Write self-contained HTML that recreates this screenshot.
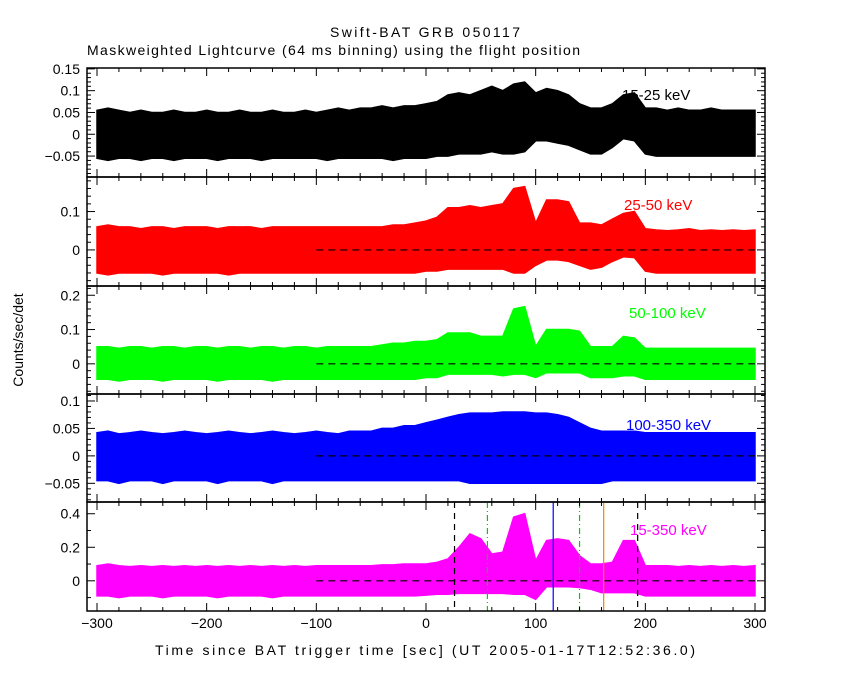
<!DOCTYPE html>
<html><head><meta charset="utf-8"><style>
html,body{margin:0;padding:0;background:#fff;}
svg{display:block;font-family:"Liberation Sans",sans-serif;}
</style></head><body>
<svg id="chart" width="850" height="680" viewBox="0 0 850 680">
<text x="425" y="37" text-anchor="middle" font-size="14" textLength="190">Swift-BAT GRB 050117</text>
<text x="87" y="55" font-size="14" textLength="493">Maskweighted Lightcurve (64 ms binning) using the flight position</text>
<text transform="translate(23,340) rotate(-90)" text-anchor="middle" font-size="14">Counts/sec/det</text>
<text x="425" y="655" text-anchor="middle" font-size="14" textLength="540">Time since BAT trigger time [sec] (UT 2005-01-17T12:52:36.0)</text>
<g id="plots"></g>
</svg>
<script>
const times=[-300,-290,-280,-270,-260,-250,-240,-230,-220,-210,-200,-190,-180,-170,-160,-150,-140,-130,-120,-110,-100,-90,-80,-70,-60,-50,-40,-30,-20,-10,0,10,20,30,40,50,60,70,80,90,100,110,120,130,140,150,160,170,180,190,200,210,220,230,240,250,260,270,280,290,300];
const hi1=[0.055,0.06,0.055,0.05,0.055,0.05,0.05,0.055,0.05,0.05,0.055,0.05,0.05,0.055,0.05,0.05,0.055,0.05,0.05,0.055,0.05,0.055,0.06,0.055,0.06,0.06,0.065,0.06,0.065,0.065,0.07,0.075,0.09,0.095,0.09,0.1,0.11,0.1,0.115,0.12,0.095,0.105,0.1,0.09,0.07,0.06,0.06,0.07,0.09,0.095,0.06,0.06,0.055,0.06,0.055,0.055,0.06,0.055,0.055,0.055,0.055];
const lo1=[-0.055,-0.06,-0.055,-0.055,-0.06,-0.055,-0.055,-0.06,-0.055,-0.055,-0.055,-0.06,-0.055,-0.055,-0.055,-0.06,-0.055,-0.055,-0.055,-0.055,-0.055,-0.06,-0.055,-0.055,-0.055,-0.055,-0.055,-0.06,-0.055,-0.055,-0.055,-0.05,-0.05,-0.045,-0.045,-0.045,-0.04,-0.045,-0.045,-0.04,-0.015,-0.015,-0.02,-0.025,-0.035,-0.045,-0.045,-0.03,-0.01,-0.015,-0.045,-0.05,-0.05,-0.05,-0.05,-0.05,-0.05,-0.05,-0.05,-0.05,-0.05];
const hi2=[0.06,0.065,0.06,0.06,0.055,0.06,0.06,0.055,0.06,0.06,0.06,0.055,0.06,0.06,0.06,0.055,0.06,0.06,0.06,0.06,0.06,0.06,0.06,0.06,0.06,0.06,0.06,0.065,0.065,0.07,0.075,0.085,0.11,0.11,0.115,0.11,0.115,0.12,0.16,0.165,0.07,0.13,0.13,0.125,0.07,0.07,0.065,0.08,0.095,0.1,0.055,0.052,0.05,0.052,0.055,0.05,0.052,0.05,0.052,0.05,0.052];
const lo2=[-0.06,-0.065,-0.06,-0.06,-0.06,-0.06,-0.065,-0.06,-0.06,-0.06,-0.06,-0.06,-0.065,-0.06,-0.06,-0.06,-0.06,-0.06,-0.06,-0.06,-0.06,-0.06,-0.06,-0.06,-0.06,-0.06,-0.06,-0.06,-0.06,-0.06,-0.055,-0.055,-0.05,-0.05,-0.05,-0.05,-0.05,-0.05,-0.06,-0.06,-0.04,-0.026,-0.026,-0.03,-0.04,-0.05,-0.045,-0.03,-0.018,-0.02,-0.055,-0.06,-0.06,-0.06,-0.06,-0.06,-0.06,-0.06,-0.06,-0.06,-0.06];
const hi3=[0.05,0.05,0.045,0.05,0.05,0.045,0.05,0.05,0.045,0.05,0.05,0.045,0.05,0.05,0.045,0.05,0.05,0.045,0.05,0.05,0.045,0.05,0.05,0.05,0.05,0.05,0.055,0.06,0.06,0.065,0.065,0.07,0.09,0.09,0.09,0.08,0.08,0.08,0.16,0.167,0.05,0.1,0.1,0.1,0.095,0.05,0.05,0.05,0.08,0.075,0.045,0.045,0.045,0.045,0.045,0.045,0.045,0.045,0.045,0.045,0.045];
const lo3=[-0.045,-0.045,-0.05,-0.045,-0.045,-0.045,-0.05,-0.045,-0.045,-0.045,-0.045,-0.05,-0.045,-0.045,-0.045,-0.045,-0.05,-0.045,-0.045,-0.045,-0.045,-0.045,-0.045,-0.045,-0.045,-0.045,-0.045,-0.045,-0.045,-0.045,-0.04,-0.04,-0.03,-0.03,-0.03,-0.03,-0.03,-0.035,-0.03,-0.03,-0.04,-0.026,-0.026,-0.026,-0.026,-0.04,-0.04,-0.04,-0.035,-0.035,-0.045,-0.045,-0.045,-0.045,-0.045,-0.045,-0.045,-0.045,-0.045,-0.045,-0.045];
const hi4=[0.042,0.045,0.04,0.042,0.045,0.042,0.04,0.042,0.045,0.042,0.04,0.042,0.045,0.042,0.04,0.042,0.045,0.042,0.04,0.042,0.045,0.042,0.04,0.045,0.045,0.045,0.05,0.05,0.055,0.055,0.06,0.065,0.07,0.075,0.078,0.078,0.078,0.08,0.08,0.08,0.078,0.078,0.075,0.07,0.06,0.05,0.045,0.045,0.045,0.045,0.042,0.042,0.042,0.042,0.042,0.042,0.042,0.042,0.042,0.042,0.042];
const lo4=[-0.045,-0.045,-0.05,-0.045,-0.045,-0.045,-0.05,-0.045,-0.045,-0.045,-0.045,-0.05,-0.045,-0.045,-0.045,-0.045,-0.05,-0.045,-0.045,-0.045,-0.045,-0.045,-0.045,-0.045,-0.045,-0.045,-0.045,-0.045,-0.045,-0.045,-0.045,-0.045,-0.045,-0.045,-0.05,-0.05,-0.05,-0.05,-0.05,-0.05,-0.05,-0.05,-0.05,-0.05,-0.05,-0.05,-0.05,-0.045,-0.045,-0.045,-0.045,-0.045,-0.045,-0.045,-0.045,-0.045,-0.045,-0.045,-0.045,-0.045,-0.045];
const hi5=[0.09,0.1,0.09,0.085,0.09,0.085,0.09,0.085,0.09,0.085,0.09,0.085,0.09,0.085,0.09,0.085,0.09,0.085,0.09,0.085,0.09,0.09,0.09,0.09,0.09,0.09,0.095,0.095,0.1,0.1,0.1,0.11,0.13,0.2,0.28,0.25,0.16,0.17,0.38,0.4,0.12,0.24,0.25,0.24,0.15,0.1,0.1,0.11,0.24,0.24,0.09,0.09,0.09,0.085,0.09,0.085,0.09,0.085,0.09,0.085,0.09];
const lo5=[-0.09,-0.09,-0.1,-0.09,-0.09,-0.09,-0.1,-0.09,-0.09,-0.09,-0.09,-0.1,-0.09,-0.09,-0.09,-0.09,-0.1,-0.09,-0.09,-0.09,-0.09,-0.09,-0.09,-0.09,-0.09,-0.09,-0.09,-0.09,-0.09,-0.09,-0.085,-0.08,-0.08,-0.075,-0.075,-0.075,-0.075,-0.075,-0.08,-0.08,-0.11,-0.035,-0.035,-0.035,-0.04,-0.05,-0.07,-0.07,-0.07,-0.07,-0.09,-0.09,-0.09,-0.09,-0.09,-0.09,-0.09,-0.09,-0.09,-0.09,-0.09];
const xTicks=[-300,-200,-100,0,100,200,300];
const yTicks1=[-0.05,0,0.05,0.1,0.15];
const yTicks2=[0,0.1];
const yTicks3=[0,0.1,0.2];
const yTicks4=[-0.05,0,0.05,0.1];
const yTicks5=[0,0.2,0.4];
const labels=["15-25 keV","25-50 keV","50-100 keV","100-350 keV","15-350 keV"];
const colors=["#000000","#ff0000","#00ff00","#0000ff","#ff00ff"];
const markTimes=[26,56,116,140,162,193];

const NS="http://www.w3.org/2000/svg";
const L=87,R=765;
const xs=t=>426+t*1.0967;
const panels=[
 {top:68,bot:177,ymin:-0.098,ymax:0.152,hi:hi1,lo:lo1,ticks:yTicks1,minor:0.01,zero:false,lx:622,ly:100},
 {top:177,bot:286,ymin:-0.094,ymax:0.19,hi:hi2,lo:lo2,ticks:yTicks2,minor:0.02,zero:true,lx:624,ly:210},
 {top:286,bot:394,ymin:-0.088,ymax:0.227,hi:hi3,lo:lo3,ticks:yTicks3,minor:0.02,zero:true,lx:629,ly:318},
 {top:394,bot:502,ymin:-0.084,ymax:0.1127,hi:hi4,lo:lo4,ticks:yTicks4,minor:0.01,zero:true,lx:626,ly:430},
 {top:502,bot:611,ymin:-0.18,ymax:0.47,hi:hi5,lo:lo5,ticks:yTicks5,minor:0.1,zero:true,lx:630,ly:535}
];
const g=document.getElementById('plots');
function mk(tag,attrs,parent){const e=document.createElementNS(NS,tag);for(const k in attrs)e.setAttribute(k,attrs[k]);(parent||g).appendChild(e);return e;}
panels.forEach((p,i)=>{
 const ys=v=>p.bot-(v-p.ymin)/(p.ymax-p.ymin)*(p.bot-p.top);
 const pg=mk('g',{});
 
 
 const cp=mk('clipPath',{id:'cp'+i},pg);
 mk('rect',{x:L,y:p.top,width:R-L,height:p.bot-p.top},cp);
 const lab=mk('text',{x:p.lx,y:p.ly,'font-size':15,fill:colors[i]},pg);
 lab.textContent=labels[i];
 
 
 let pts=[];
 times.forEach((t,k)=>pts.push(xs(t).toFixed(1)+','+ys(p.hi[k]).toFixed(1)));
 for(let k=times.length-1;k>=0;k--)pts.push(xs(times[k]).toFixed(1)+','+ys(p.lo[k]).toFixed(1));
 const poly=mk('polygon',{points:pts.join(' '),fill:colors[i],stroke:colors[i],'stroke-width':1.5,'clip-path':'url(#cp'+i+')'},pg);
 
 
 if(p.zero){
  const z=mk('line',{x1:xs(-100),x2:xs(300),y1:ys(0),y2:ys(0),stroke:'#000','stroke-dasharray':'7,5','stroke-width':1.2},pg);
  
  
 }
 if(i===4){
  const st=[['#000','6,5'],['#00cc00','6,3,1,3'],['#0000ff',''],['#00cc00','6,3,1,3'],['#ff8000',''],['#000','6,5']];
  markTimes.forEach((t,k)=>{
   const m=mk('line',{x1:xs(t),x2:xs(t),y1:p.top,y2:p.bot,stroke:st[k][0],'stroke-dasharray':st[k][1],'stroke-width':1.2},pg);
   
   
  });
 }
 const fr=mk('rect',{x:L,y:p.top,width:R-L,height:p.bot-p.top,fill:'none',stroke:'#000','stroke-width':1.5},pg);
 
 
 for(let t=-300;t<=300;t+=20){
  const len=(t%100===0)?8:4;
  mk('line',{x1:xs(t),x2:xs(t),y1:p.top,y2:p.top+len,stroke:'#000'},pg);
  mk('line',{x1:xs(t),x2:xs(t),y1:p.bot,y2:p.bot-len,stroke:'#000'},pg);
 }
 const n0=Math.ceil(p.ymin/p.minor-1e-6),n1=Math.floor(p.ymax/p.minor+1e-6);
 for(let n=n0;n<=n1;n++){
  const v=n*p.minor,y=ys(v);
  const major=p.ticks.some(tv=>Math.abs(tv-v)<1e-6);
  const len=major?8:4;
  mk('line',{x1:L,x2:L+len,y1:y,y2:y,stroke:'#000'},pg);
  mk('line',{x1:R,x2:R-len,y1:y,y2:y,stroke:'#000'},pg);
 }
 p.ticks.forEach(v=>{
  const tx=mk('text',{x:L-7,y:ys(v)+5,'text-anchor':'end','font-size':14},pg);
  tx.textContent=(v<0?'\u2212':'')+String(Math.abs(v));
  
  
 });
});
xTicks.forEach(t=>{
 const tx=mk('text',{x:xs(t),y:628,'text-anchor':'middle','font-size':14});
 tx.textContent=(t<0?'\u2212':'')+String(Math.abs(t));
 
 
});
</script>
</body></html>
